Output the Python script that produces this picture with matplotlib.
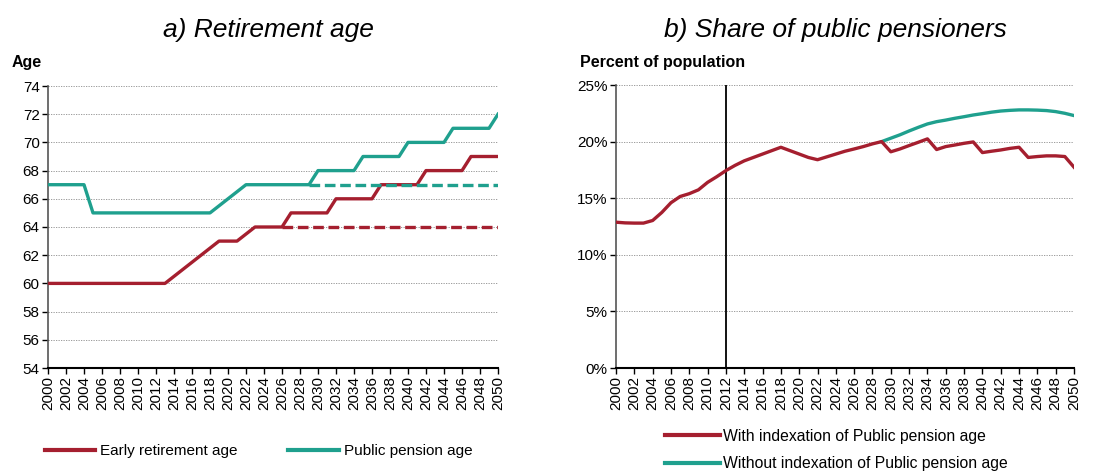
import matplotlib
matplotlib.use("Agg")
import matplotlib.pyplot as plt
from matplotlib.lines import Line2D
from matplotlib.ticker import FuncFormatter

plt.rcParams['font.family'] = ['Liberation Sans', 'DejaVu Sans']

# ---- data ----
years = list(range(2000, 2051))

early_retirement_age = ([60] * 14                                        # 2000-2013
                        + [60.5, 61, 61.5, 62, 62.5, 63, 63, 63, 63.5]   # 2014-2022
                        + [64] * 4                                       # 2023-2026
                        + [65] * 5                                       # 2027-2031
                        + [66] * 5                                       # 2032-2036
                        + [67] * 5                                       # 2037-2041
                        + [68] * 5                                       # 2042-2046
                        + [69] * 4)                                      # 2047-2050

public_pension_age = ([67] * 5                               # 2000-2004
                      + [65] * 14                            # 2005-2018
                      + [65.5, 66, 66.5]                     # 2019-2021
                      + [67] * 8                             # 2022-2029
                      + [68] * 5 + [69] * 5 + [70] * 5 + [71] * 5
                      + [72])                                # 2050

# ages kept fixed (no indexation)
early_frozen_years = list(range(2026, 2051))
early_frozen = [64] * len(early_frozen_years)
pension_frozen_years = list(range(2029, 2051))
pension_frozen = [67] * len(pension_frozen_years)

share_with_index = [12.88, 12.82, 12.8, 12.8, 13.03, 13.74, 14.6, 15.15, 15.4, 15.74,
                    16.4, 16.9, 17.44, 17.9, 18.3, 18.6, 18.9, 19.2, 19.5, 19.2,
                    18.9, 18.6, 18.4, 18.65, 18.9, 19.15, 19.35, 19.56, 19.8, 20.0,
                    19.1, 19.35, 19.65, 19.94, 20.24, 19.3, 19.56, 19.7, 19.85, 19.97,
                    19.03, 19.15, 19.26, 19.4, 19.5, 18.6, 18.68, 18.74, 18.74, 18.68,
                    17.74]
share_without_years = list(range(2029, 2051))
share_without_index = [20.0, 20.3, 20.6, 20.94, 21.26, 21.56, 21.76, 21.9, 22.06, 22.2,
                       22.35, 22.47, 22.6, 22.7, 22.76, 22.8, 22.8, 22.78, 22.74, 22.65,
                       22.5, 22.3]

x_ticks = list(range(2000, 2051, 2))
RED = '#a51f2f'
TEAL = '#1fa08e'
LW = 2.4
FS = 11

fig = plt.figure(figsize=(11, 4.72), dpi=100)
ax1 = fig.add_axes([48 / 1100, 1 - 368 / 472, 450 / 1100, 282 / 472])
ax2 = fig.add_axes([616 / 1100, 1 - 368 / 472, 458 / 1100, 283 / 472])


def style(ax):
    ax.set_xlim(2000, 2050)
    ax.set_xticks(x_ticks)
    ax.set_xticklabels([str(y) for y in x_ticks], rotation=90, fontsize=FS)
    ax.tick_params(axis='both', direction='out', length=4, width=1, labelsize=FS,
                   color='black', pad=2)
    ax.grid(axis='y', color='#8c8c8c', linestyle=(0, (1.5, 1.5)), linewidth=0.6)
    ax.set_axisbelow(True)
    for s in ('top', 'right'):
        ax.spines[s].set_visible(False)
    ax.spines['left'].set_color('#555555')
    ax.spines['left'].set_linewidth(1.2)
    ax.spines['bottom'].set_color('black')
    ax.spines['bottom'].set_linewidth(1.5)


DASH = (0, (3.2, 1.4))

# ---- a) Retirement age ----
style(ax1)
ax1.set_ylim(54, 74)
ax1.set_yticks(range(54, 75, 2))
ax1.plot(early_frozen_years, early_frozen, color=RED, lw=LW, ls=DASH, zorder=3)
ax1.plot(years, early_retirement_age, color=RED, lw=LW, zorder=4)
ax1.plot(years, public_pension_age, color=TEAL, lw=LW, zorder=4)
ax1.plot(pension_frozen_years, pension_frozen, color=TEAL, lw=LW, ls=DASH, zorder=5)
fig.text(268 / 1100, 1 - 30 / 472, 'a) Retirement age', ha='center', va='center',
         fontsize=19, style='italic')
fig.text(12 / 1100, 1 - 62 / 472, 'Age', ha='left', va='center', fontsize=11.5,
         fontweight='bold')

# ---- b) Share of public pensioners ----
style(ax2)
ax2.set_ylim(0, 25)
ax2.set_yticks(range(0, 26, 5))
ax2.yaxis.set_major_formatter(FuncFormatter(lambda v, p: f'{v:.0f}%'))
ax2.axvline(2012, color='black', lw=1.3, zorder=2)
ax2.plot(share_without_years, share_without_index, color=TEAL, lw=LW, zorder=3)
ax2.plot(years, share_with_index, color=RED, lw=LW, zorder=4)
fig.text(835 / 1100, 1 - 30 / 472, 'b) Share of public pensioners', ha='center',
         va='center', fontsize=19, style='italic')
fig.text(580 / 1100, 1 - 62 / 472, 'Percent of population', ha='left', va='center',
         fontsize=11.5, fontweight='bold')

# ---- legends ----
h_red = Line2D([], [], color=RED, lw=LW + 0.6)
h_teal = Line2D([], [], color=TEAL, lw=LW + 0.6)
fig.legend([h_red, h_teal], ['Early retirement age', 'Public pension age'],
           loc='center left', bbox_to_anchor=(45 / 1100, 1 - 451 / 472), ncol=2,
           frameon=False, fontsize=11, handlelength=3.3, handletextpad=0.33,
           columnspacing=3.3, borderaxespad=0, borderpad=0)
fig.legend([h_red, h_teal], ['With indexation of Public pension age',
                             'Without indexation of Public pension age'],
           loc='center left', bbox_to_anchor=(665 / 1100, 1 - 450 / 472), ncol=1,
           frameon=False, fontsize=11.3, handlelength=3.5, handletextpad=0.2,
           labelspacing=0.82, borderaxespad=0, borderpad=0)

fig.savefig('out.png', dpi=100)
